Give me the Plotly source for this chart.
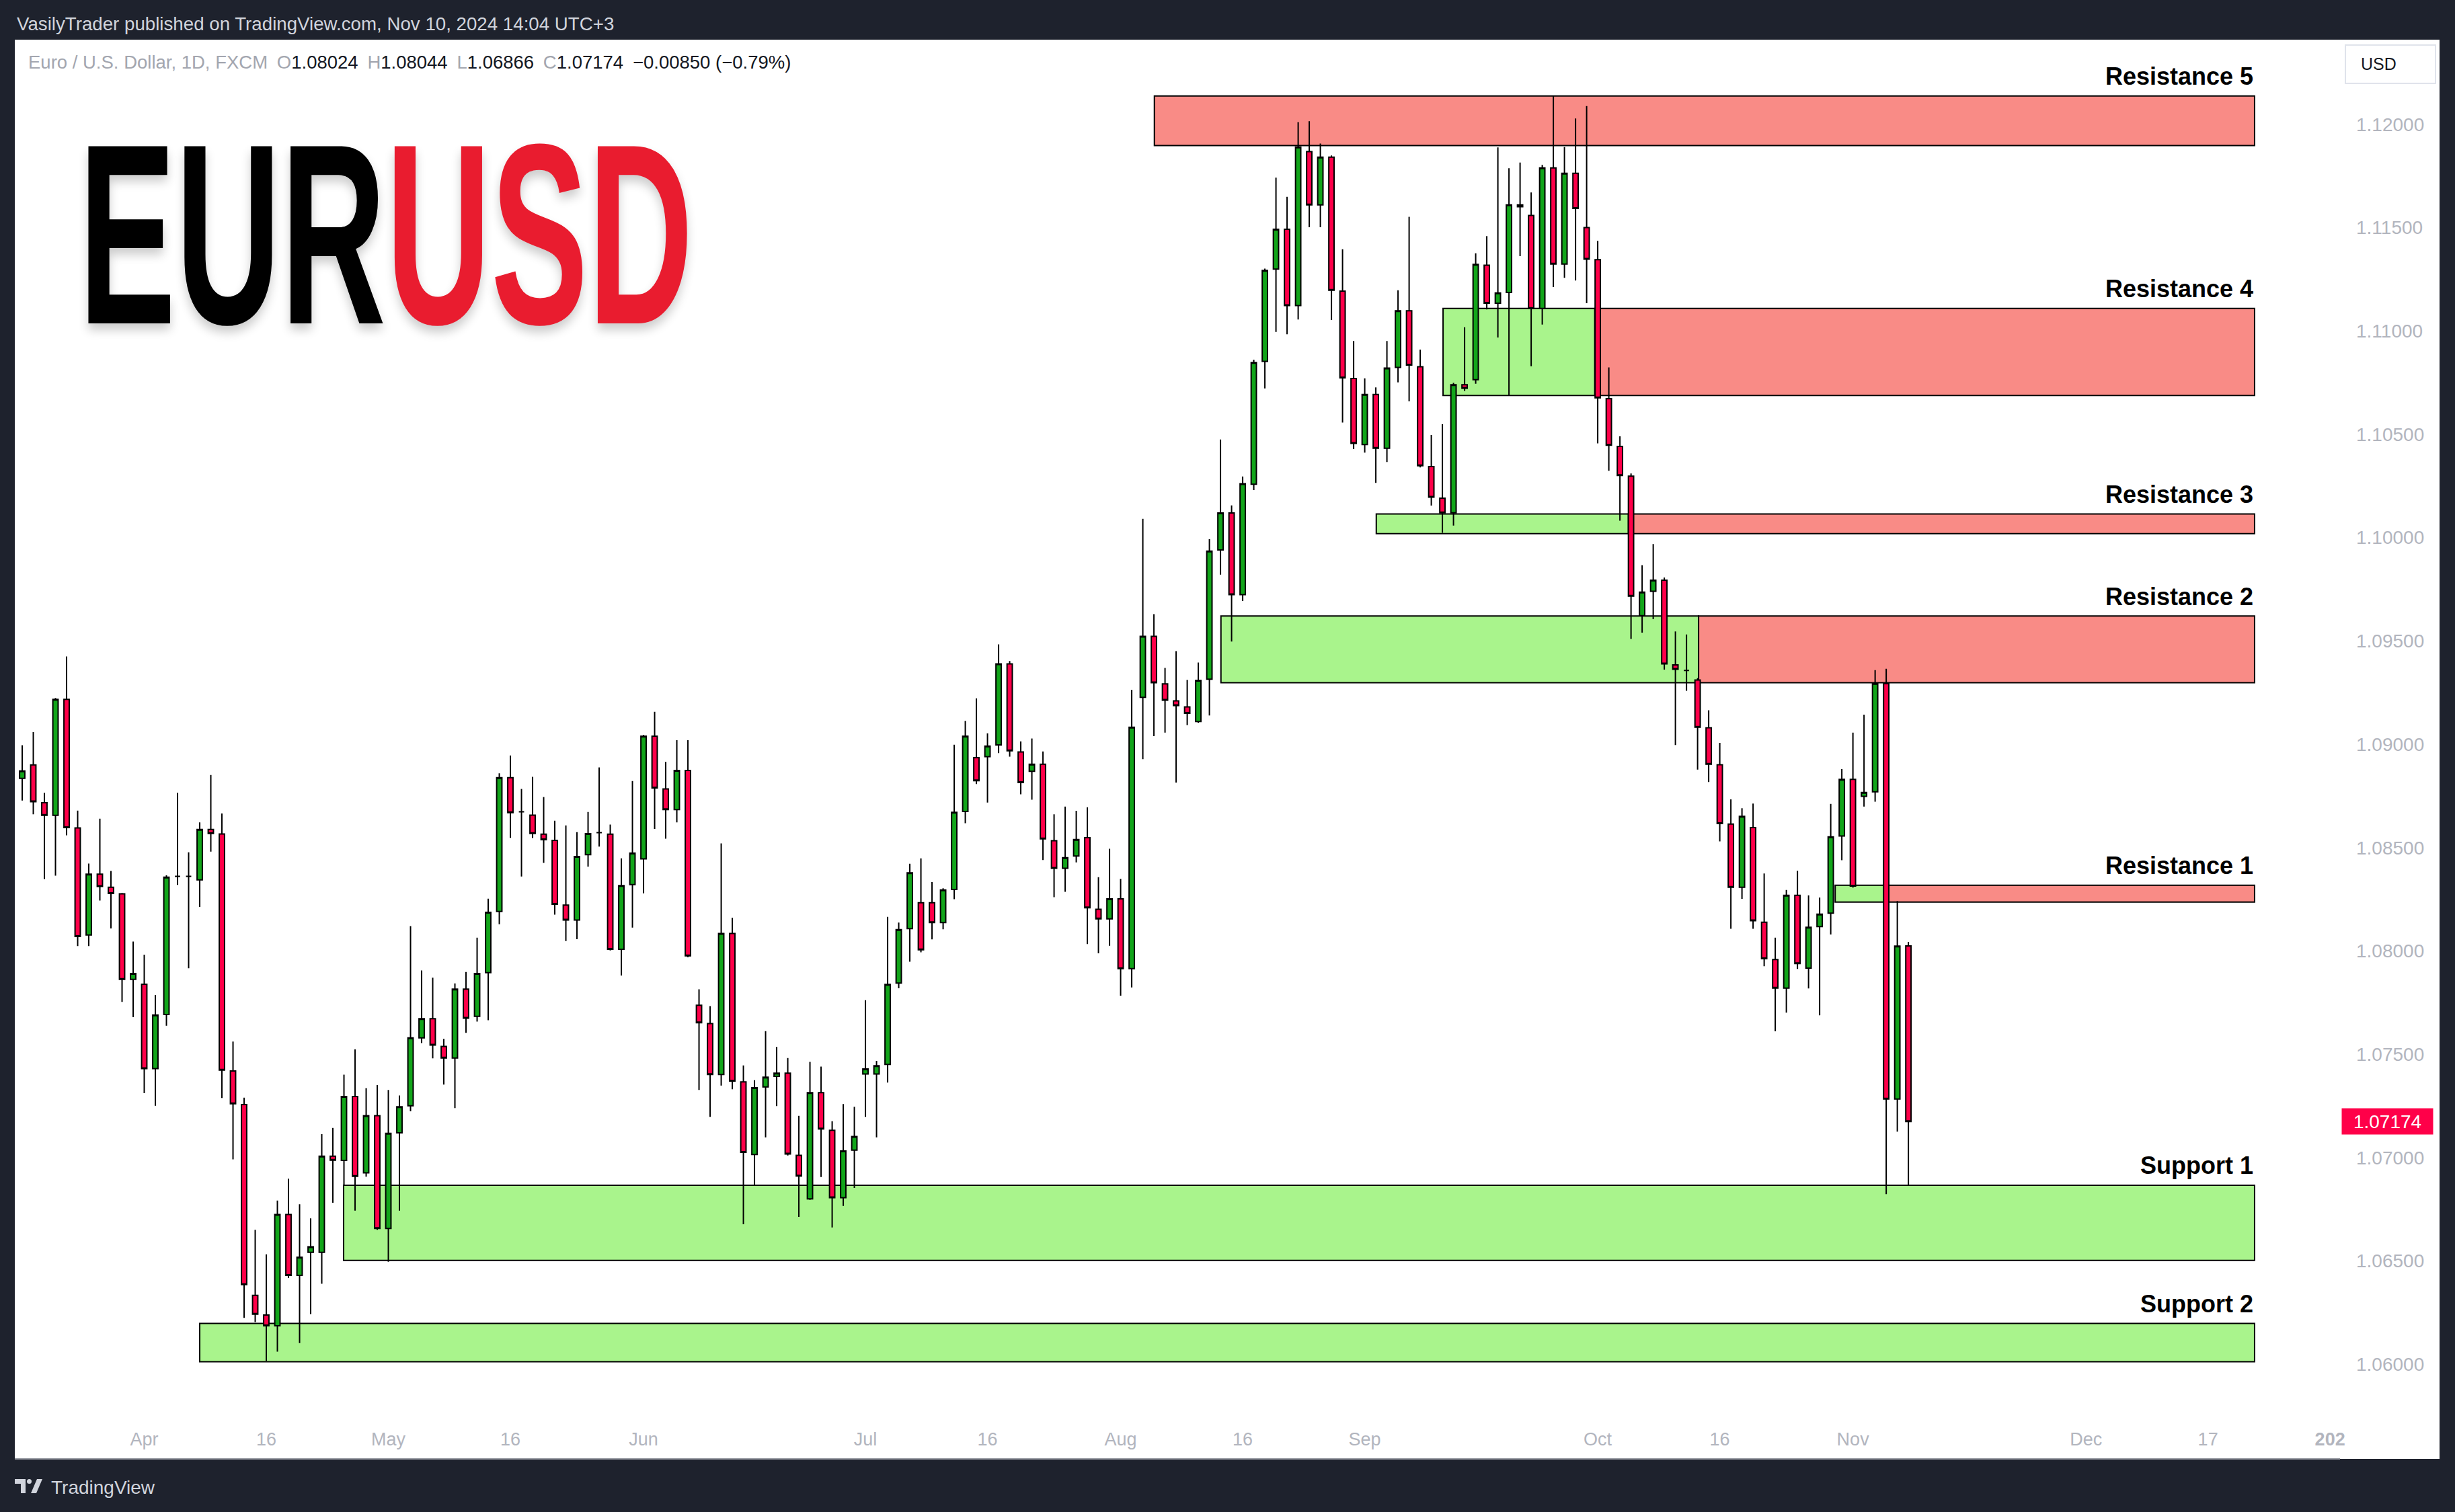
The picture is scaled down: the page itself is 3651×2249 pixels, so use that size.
import numpy as np
import pandas as pd
import plotly.graph_objects as go

# ---------------- data ----------------
START = "2024-03-15"
dates = pd.bdate_range(START, "2024-11-08").strftime("%Y-%m-%d").tolist()

opens = [
    1.08835, 1.08900, 1.08717, 1.08656, 1.09217, 1.08595, 1.08077, 1.08371, 1.08308, 1.08276, 1.07862,
    1.07839, 1.07430, 1.07692, 1.08361, 1.08361, 1.08344, 1.08588, 1.08566, 1.07419, 1.07256,
    1.06333, 1.06238, 1.06186, 1.06724, 1.06430, 1.06541, 1.06541, 1.07007, 1.06986, 1.07295,
    1.06926, 1.07203,
    1.06657, 1.07120, 1.07251,
    1.07579, 1.07672, 1.07538, 1.07482, 1.07815,
    1.07683, 1.07895, 1.08191, 1.08838, 1.08673,
    1.08657, 1.08565, 1.08535, 1.08222, 1.08149,
    1.08466, 1.08572, 1.08565, 1.08008, 1.08321,
    1.08445, 1.09039, 1.08784, 1.08684, 1.08873,
    1.07737, 1.07648, 1.07402, 1.08084, 1.07366,
    1.07015, 1.07342, 1.07393, 1.07408, 1.07011,
    1.06800, 1.07314, 1.07132, 1.06806, 1.07036,
    1.07404, 1.07404, 1.07451, 1.07844, 1.08108,
    1.08233, 1.08233, 1.08137, 1.08297, 1.08675,
    1.08935, 1.08940, 1.08997, 1.09389, 1.08963,
    1.08869, 1.08903, 1.08533, 1.08400, 1.08459,
    1.08548, 1.08201, 1.08155, 1.08252, 1.07914,
    1.09227, 1.09522, 1.09292, 1.09210, 1.09181,
    1.09110, 1.09315, 1.09940, 1.10119, 1.09724,
    1.10258, 1.10853, 1.11299, 1.11492, 1.11123,
    1.11868, 1.11610, 1.11841, 1.11193, 1.10770,
    1.10450, 1.10693, 1.10432, 1.10824, 1.11098,
    1.10827, 1.10344, 1.10191, 1.10120, 1.10740,
    1.10764, 1.11318, 1.11134, 1.11186, 1.11610,
    1.11559, 1.11109, 1.11789, 1.11324, 1.11763,
    1.11500, 1.11345, 1.10672, 1.10441, 1.10297,
    1.09622, 1.09740, 1.09794, 1.09384, 1.09357,
    1.09311, 1.09080, 1.08901, 1.08614, 1.08308,
    1.08597, 1.08139, 1.07958, 1.07820, 1.08269,
    1.07917, 1.08118, 1.08183, 1.08556, 1.08830,
    1.08748, 1.08770, 1.09294, 1.07283, 1.08024,
]
highs = [
    1.08995, 1.09059, 1.08765, 1.09224, 1.09425, 1.08679, 1.08423, 1.08640, 1.08387, 1.08280, 1.08045,
    1.07982, 1.07787, 1.08366, 1.08765, 1.08477, 1.08622, 1.08851, 1.08665, 1.07561, 1.07290,
    1.06650, 1.06532, 1.06792, 1.06898, 1.06774, 1.06706, 1.07113, 1.07143, 1.07401, 1.07524,
    1.07336, 1.07351,
    1.07327, 1.07300, 1.08120,
    1.07905, 1.07870, 1.07574, 1.07843, 1.07898,
    1.08064, 1.08253, 1.08859, 1.08946, 1.08784,
    1.08842, 1.08745, 1.08630, 1.08607, 1.08575,
    1.08672, 1.08888, 1.08611, 1.08448, 1.08822,
    1.09046, 1.09157, 1.08915, 1.09020, 1.09020,
    1.07814, 1.07733, 1.08520, 1.08161, 1.07446,
    1.07374, 1.07612, 1.07535, 1.07482, 1.07202,
    1.07463, 1.07440, 1.07176, 1.07259, 1.07246,
    1.07761, 1.07468, 1.08165, 1.08137, 1.08422,
    1.08448, 1.08333, 1.08303, 1.08998, 1.09113,
    1.09222, 1.09053, 1.09483, 1.09403, 1.09014,
    1.09028, 1.08965, 1.08661, 1.08698, 1.08678,
    1.08695, 1.08357, 1.08494, 1.08349, 1.09264,
    1.10091, 1.09630, 1.09369, 1.09451, 1.09312,
    1.09395, 1.09992, 1.10475, 1.10156, 1.10296,
    1.10861, 1.11302, 1.11742, 1.11649, 1.12010,
    1.12015, 1.11907, 1.11849, 1.11395, 1.10951,
    1.10771, 1.10727, 1.10951, 1.11197, 1.11552,
    1.10910, 1.10497, 1.10549, 1.10749, 1.11018,
    1.11376, 1.11459, 1.11888, 1.11787, 1.11815,
    1.11670, 1.11804, 1.12136, 1.11890, 1.12028,
    1.12088, 1.11436, 1.10824, 1.10490, 1.10310,
    1.09866, 1.09969, 1.09807, 1.09546, 1.09531,
    1.09320, 1.09164, 1.09007, 1.08733, 1.08690,
    1.08713, 1.08375, 1.08064, 1.08295, 1.08388,
    1.08269, 1.08258, 1.08711, 1.08880, 1.09056,
    1.09143, 1.09359, 1.09365, 1.08241, 1.08044,
]
lows = [
    1.08728, 1.08661, 1.08348, 1.08364, 1.08559, 1.08023, 1.08023, 1.08244, 1.08109, 1.07753, 1.07679,
    1.07312, 1.07251, 1.07638, 1.08319, 1.07916, 1.08213, 1.08480, 1.07288, 1.06991, 1.06224,
    1.06204, 1.06016, 1.06061, 1.06417, 1.06102, 1.06242, 1.06389, 1.06781, 1.06867, 1.06743,
    1.06907, 1.06650,
    1.06496, 1.06743, 1.07224,
    1.07554, 1.07480, 1.07353, 1.07239, 1.07604,
    1.07658, 1.07665, 1.08129, 1.08547, 1.08360,
    1.08546, 1.08426, 1.08175, 1.08048, 1.08057,
    1.08408, 1.08505, 1.08002, 1.07881, 1.08113,
    1.08279, 1.08590, 1.08543, 1.08622, 1.07970,
    1.07327, 1.07197, 1.07348, 1.07330, 1.06677,
    1.06866, 1.07098, 1.07249, 1.07010, 1.06713,
    1.06795, 1.06906, 1.06662, 1.06766, 1.06853,
    1.07197, 1.07098, 1.07363, 1.07819, 1.07948,
    1.07993, 1.08056, 1.08105, 1.08250, 1.08618,
    1.08807, 1.08718, 1.08957, 1.08940, 1.08758,
    1.08732, 1.08440, 1.08260, 1.08286, 1.08428,
    1.08033, 1.07988, 1.08025, 1.07783, 1.07823,
    1.08928, 1.09039, 1.09056, 1.08815, 1.09093,
    1.09104, 1.09139, 1.09821, 1.09497, 1.09693,
    1.10230, 1.10722, 1.10995, 1.10984, 1.11055,
    1.11502, 1.11502, 1.11053, 1.10557, 1.10428,
    1.10411, 1.10265, 1.10366, 1.10751, 1.10659,
    1.10340, 1.10155, 1.10023, 1.10058, 1.10710,
    1.10745, 1.11104, 1.10968, 1.10689, 1.11362,
    1.10829, 1.11031, 1.11212, 1.11257, 1.11244,
    1.11134, 1.10456, 1.10323, 1.10082, 1.09510,
    1.09540, 1.09605, 1.09361, 1.08996, 1.09259,
    1.08877, 1.08817, 1.08530, 1.08107, 1.08252,
    1.08107, 1.07926, 1.07611, 1.07701, 1.07913,
    1.07818, 1.07688, 1.08079, 1.08439, 1.08306,
    1.08698, 1.08722, 1.06823, 1.07125, 1.06866,
]
closes = [
    1.08871, 1.08722, 1.08656, 1.09217, 1.08597, 1.08070, 1.08371, 1.08312, 1.08278, 1.07862, 1.07891,
    1.07430, 1.07690, 1.08357, 1.08361, 1.08361, 1.08588, 1.08568, 1.07423, 1.07260, 1.06385,
    1.06242, 1.06186, 1.06724, 1.06430, 1.06518, 1.06568, 1.07007, 1.06987, 1.07295, 1.06909,
    1.07203, 1.06657,
    1.07117, 1.07246, 1.07579,
    1.07672, 1.07544, 1.07482, 1.07815, 1.07674,
    1.07891, 1.08187, 1.08838, 1.08669, 1.08673,
    1.08568, 1.08538, 1.08226, 1.08149, 1.08457,
    1.08567, 1.08572, 1.08008, 1.08316, 1.08473,
    1.09039, 1.08789, 1.08684, 1.08873, 1.07976,
    1.07652, 1.07402, 1.08084, 1.07370, 1.07025,
    1.07338, 1.07389, 1.07408, 1.07017, 1.06911,
    1.07314, 1.07138, 1.06806, 1.07032, 1.07102,
    1.07429, 1.07444, 1.07838, 1.08103, 1.08378,
    1.08005, 1.08137, 1.08295, 1.08671, 1.09039,
    1.08824, 1.08991, 1.09389, 1.08968, 1.08815,
    1.08903, 1.08542, 1.08400, 1.08451, 1.08539,
    1.08209, 1.08155, 1.08252, 1.07914, 1.09082,
    1.09522, 1.09298, 1.09213, 1.09187, 1.09150,
    1.09309, 1.09935, 1.10119, 1.09724, 1.10261,
    1.10847, 1.11293, 1.11492, 1.11123, 1.11890,
    1.11610, 1.11841, 1.11197, 1.10773, 1.10456,
    1.10693, 1.10432, 1.10820, 1.11098, 1.10835,
    1.10348, 1.10196, 1.10120, 1.10740, 1.10723,
    1.11322, 1.11134, 1.11184, 1.11610, 1.11601,
    1.11109, 1.11789, 1.11324, 1.11763, 1.11593,
    1.11347, 1.10676, 1.10447, 1.10301, 1.09717,
    1.09736, 1.09794, 1.09389, 1.09363, 1.09357,
    1.09082, 1.08903, 1.08616, 1.08308, 1.08651,
    1.08146, 1.07962, 1.07820, 1.08269, 1.07939,
    1.08114, 1.08178, 1.08552, 1.08830, 1.08314,
    1.08767, 1.09294, 1.07283, 1.08023, 1.07174,
]

# time-scale labels
tick_dates = ["2024-04-01", "2024-04-16", "2024-05-01", "2024-05-16", "2024-06-03",
              "2024-07-01", "2024-07-16", "2024-08-01", "2024-08-16", "2024-09-02",
              "2024-10-01", "2024-10-16", "2024-11-01", "2024-12-02", "2024-12-17",
              "2025-01-01"]
tick_text = ["Apr", "16", "May", "16", "Jun", "Jul", "16", "Aug", "16", "Sep",
             "Oct", "16", "Nov", "Dec", "17", "<b>202</b>"]

# price scale labels
price_ticks = [1.06, 1.065, 1.07, 1.075, 1.08, 1.085, 1.09, 1.095, 1.10, 1.105, 1.11, 1.115, 1.12]

# support / resistance zones
zone_names = ["Resistance 5", "Resistance 4", "Resistance 3", "Resistance 2",
              "Resistance 1", "Support 1", "Support 2"]
zone_low = [1.11897, 1.10688, 1.10019, 1.09298, 1.08236, 1.06502, 1.06012]
zone_high = [1.12137, 1.11109, 1.10114, 1.09621, 1.08318, 1.06866, 1.06197]
zone_start = [("2024-08-06", 0.04), ("2024-09-11", 0.06), ("2024-09-03", 0.04),
              ("2024-08-14", 0.04), ("2024-10-30", 0.4), ("2024-04-25", -0.03),
              ("2024-04-08", 0.0)]
# where a zone turns from green (support-flip part) to red; None = single colour
zone_flip = [None, ("2024-09-30", 0.74), ("2024-10-03", 0.77), ("2024-10-14", 0.09),
             ("2024-11-05", 0.8), None, None]
zone_kind = ["R", "R", "R", "R", "R", "S", "S"]
zone_end = ("2024-12-23", 0.2)

last_price = 1.07174

# ---------------- helpers ----------------
def pos(date, frac=0.0):
    return float(np.busday_count(START, date)) + frac

W, H = 3651, 2249
ML, MR, MT, MB = 22, 171, 59, 139
PW, PH = W - ML - MR, H - MT - MB

def fx(px):
    return (px - ML) / PW

def fy(py):
    return (H - MB - py) / PH

DARK = "#1E222D"
GREEN_ZONE = "#A9F48C"
RED_ZONE = "#F98B86"
UI_FONT = "Liberation Sans, Arial, sans-serif"

x = [pos(d) for d in dates]

fig = go.Figure()
fig.add_trace(go.Candlestick(
    x=x, open=opens, high=highs, low=lows, close=closes,
    increasing=dict(line=dict(color="#000000", width=2), fillcolor="#12A51A"),
    decreasing=dict(line=dict(color="#000000", width=2), fillcolor="#FF0049"),
    whiskerwidth=0, showlegend=False, hoverinfo="skip",
))

shapes = []
# white chart panel
shapes.append(dict(type="rect", xref="paper", yref="paper", layer="below",
                   x0=fx(22), x1=fx(3628), y0=fy(2170), y1=fy(59),
                   fillcolor="#FFFFFF", line=dict(width=0)))
shapes.append(dict(type="line", xref="paper", yref="paper", layer="above",
                   x0=fx(22), x1=fx(3480), y0=fy(2170), y1=fy(2170),
                   line=dict(color="#9598A1", width=2)))

x_end = pos(*zone_end)
annotations = []
for i, name in enumerate(zone_names):
    x0 = pos(*zone_start[i])
    y0, y1 = zone_low[i], zone_high[i]
    segs = []
    if zone_kind[i] == "S":
        segs.append((x0, x_end, GREEN_ZONE))
    elif zone_flip[i] is None:
        segs.append((x0, x_end, RED_ZONE))
    else:
        xf = pos(*zone_flip[i])
        segs.append((x0, xf, GREEN_ZONE))
        segs.append((xf, x_end, RED_ZONE))
    for a, b, col in segs:
        shapes.append(dict(type="rect", xref="x", yref="y", layer="below",
                           x0=a, x1=b, y0=y0, y1=y1, fillcolor=col,
                           line=dict(color="#000000", width=2)))
    annotations.append(dict(x=x_end, y=y1, xref="x", yref="y", text=name,
                            showarrow=False, xanchor="right", yanchor="middle",
                            yshift=29,
                            font=dict(family=UI_FONT, size=36, color="#000000", weight="bold")))

# USD box
shapes.append(dict(type="rect", xref="paper", yref="paper", layer="above",
                   x0=fx(3488), x1=fx(3622), y0=fy(124), y1=fy(67),
                   fillcolor="#FFFFFF", line=dict(color="#E0E3EB", width=2)))
annotations.append(dict(xref="paper", yref="paper", x=fx(3509), y=fy(95),
                        text="USD", showarrow=False, xanchor="left", yanchor="middle",
                        font=dict(family=UI_FONT, size=25, color="#131722")))

# last price label
annotations.append(dict(xref="paper", yref="y", x=1.0, y=last_price,
                        text=f"{last_price:.5f}", showarrow=False,
                        xanchor="left", yanchor="middle", xshift=2,
                        bgcolor="#FF0049", width=131, height=34, borderpad=2,
                        font=dict(family=UI_FONT, size=28, color="#FFFFFF")))

# header
annotations.append(dict(xref="paper", yref="paper", x=fx(23), y=fy(36),
                        text="VasilyTrader published on TradingView.com, Nov 10, 2024 14:04 UTC+3",
                        showarrow=False, xanchor="left", yanchor="middle",
                        font=dict(family=UI_FONT, size=27.7, color="#D1D4DC")))
G = "#A3A6AF"
legend = (f"<span style='color:{G}'>Euro / U.S. Dollar, 1D, FXCM</span>\u2002"
          f"<span style='color:{G}'>O</span>{opens[-1]:.5f}\u2002"
          f"<span style='color:{G}'>H</span>{highs[-1]:.5f}\u2002"
          f"<span style='color:{G}'>L</span>{lows[-1]:.5f}\u2002"
          f"<span style='color:{G}'>C</span>{closes[-1]:.5f}\u2002"
          f"\u22120.00850 (\u22120.79%)")
annotations.append(dict(xref="paper", yref="paper", x=fx(40), y=fy(93),
                        text=legend, showarrow=False, xanchor="left", yanchor="middle",
                        font=dict(family=UI_FONT, size=27.5, color="#131722")))

# big EURUSD logo (horizontally condensed after render)
annotations.append(dict(xref="paper", yref="paper", x=fx(115), y=fy(348),
                        text="<span style='color:#000000'>EUR</span><span style='color:#E91C2F'>USD</span>",
                        showarrow=False, xanchor="left", yanchor="middle",
                        font=dict(family="Liberation Sans, Arial, sans-serif",
                                  size=383, color="#000000", weight="bold",
                                  shadow="0px 8px 16px rgba(0,0,0,0.2)")))

# footer
annotations.append(dict(xref="paper", yref="paper", x=fx(74), y=fy(2212),
                        text="TradingView", showarrow=False, xanchor="left", yanchor="middle",
                        font=dict(family=UI_FONT, size=28, color="#D1D4DC")))
LOGO = "#D1D4DC"
shapes.append(dict(type="rect", xref="paper", yref="paper", x0=fx(22), x1=fx(38),
                   y0=fy(2207), y1=fy(2200), fillcolor=LOGO, line=dict(width=0)))
shapes.append(dict(type="rect", xref="paper", yref="paper", x0=fx(31), x1=fx(38),
                   y0=fy(2221), y1=fy(2200), fillcolor=LOGO, line=dict(width=0)))
shapes.append(dict(type="circle", xref="paper", yref="paper", x0=fx(40), x1=fx(47),
                   y0=fy(2207), y1=fy(2200), fillcolor=LOGO, line=dict(width=0)))
shapes.append(dict(type="path", xref="paper", yref="paper",
                   path=f"M {fx(55)} {fy(2200)} L {fx(63)} {fy(2200)} L {fx(54)} {fy(2221)} L {fx(46)} {fy(2221)} Z",
                   fillcolor=LOGO, line=dict(width=0)))

fig.update_layout(
    width=W, height=H,
    margin=dict(l=ML, r=MR, t=MT, b=MB, pad=0),
    paper_bgcolor=DARK, plot_bgcolor="#FFFFFF",
    showlegend=False,
    shapes=shapes, annotations=annotations,
    boxgap=0.32,
    xaxis=dict(range=[-0.667, 208.9], showgrid=False, zeroline=False, showline=False,
               rangeslider=dict(visible=False), ticks="",
               tickvals=[pos(d) for d in tick_dates], ticktext=tick_text,
               tickfont=dict(family=UI_FONT, size=27, color="#B2B5BE"),
               ticklabelstandoff=12, fixedrange=True),
    yaxis=dict(range=[1.05737, 1.124096], side="right", showgrid=False, zeroline=False,
               showline=False, ticks="", tickvals=price_ticks,
               ticktext=[f"{v:.5f}" for v in price_ticks],
               tickfont=dict(family=UI_FONT, size=28, color="#B2B5BE"),
               ticklabelstandoff=23, fixedrange=True),
)

POST = """
document.body.style.margin='0';
document.body.style.padding='0';
document.querySelectorAll('text.annotation-text').forEach(function(t){
  if (t.textContent === 'EURUSD') {
    t.style.transformBox = 'fill-box';
    t.style.transformOrigin = '0% 50%';
    t.style.transform = 'scale(0.565, 1)';
  }
});
"""

fig.write_html("out.html", post_script=POST, config={"displayModeBar": False})
